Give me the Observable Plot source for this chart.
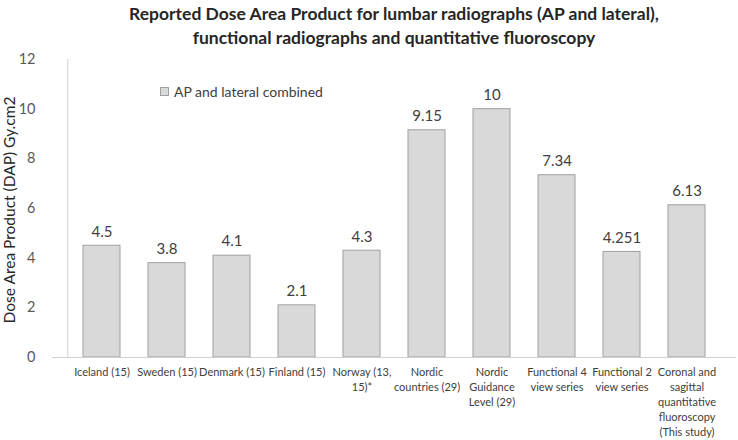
<!DOCTYPE html>
<html>
<head>
<meta charset="utf-8">
<script src="https://cdn.jsdelivr.net/npm/d3@7"></script>
<script src="https://cdn.jsdelivr.net/npm/@observablehq/plot@0.6"></script>
<style>
  html, body { margin: 0; padding: 0; background: #fff; }
  #wrap { position: relative; width: 738px; height: 440px; font-family: Lato, "Open Sans", sans-serif; }
  #title { position: absolute; left: 52px; right: 2px; top: 2px; text-align: center; font-weight: bold; font-size: 17.5px; line-height: 24px; color: #262626; }
  #legend { position: absolute; left: 160px; top: 83px; font-size: 14px; color: #404040; display: flex; align-items: center; gap: 5px; }
  #legend span.sw { display: inline-block; width: 7px; height: 7px; background: #d9d9d9; border: 1px solid #a0a0a0; }
</style>
</head>
<body>
<div id="wrap">
  <div id="title">Reported Dose Area Product for lumbar radiographs (AP and lateral),<br>functional radiographs and quantitative fluoroscopy</div>
  <div id="legend"><span class="sw"></span>AP and lateral combined</div>
</div>
<script>
const categories = [
  "Iceland (15)",
  "Sweden (15)",
  "Denmark (15)",
  "Finland (15)",
  "Norway (13,\n15)*",
  "Nordic\ncountries (29)",
  "Nordic\nGuidance\nLevel (29)",
  "Functional 4\nview series",
  "Functional 2\nview series",
  "Coronal and\nsagittal\nquantitative\nfluoroscopy\n(This study)"
];
const values = [4.5, 3.8, 4.1, 2.1, 4.3, 9.15, 10, 7.34, 4.251, 6.13];
const valueLabels = ["4.5", "3.8", "4.1", "2.1", "4.3", "9.15", "10", "7.34", "4.251", "6.13"];
const yTicks = [0, 2, 4, 6, 8, 10, 12];

const data = categories.map((c, i) => ({cat: c, value: values[i], label: valueLabels[i]}));

const chart = Plot.plot({
  width: 738,
  height: 440,
  marginLeft: 52,
  marginRight: 2,
  marginTop: 59,
  marginBottom: 83,
  style: {fontFamily: "Lato, 'Open Sans', sans-serif", background: "transparent", overflow: "visible"},
  x: {domain: categories, padding: 0.43, label: null},
  y: {domain: [0, 12], label: null},
  marks: [
    Plot.barY(data, {x: "cat", y: "value", fill: "#d9d9d9", stroke: "#a0a0a0", strokeWidth: 1}),
    Plot.text(data, {x: "cat", y: "value", text: "label", dy: -14, fontSize: 15, fill: "#404040"}),
    Plot.axisY({ticks: yTicks, tickSize: 0, tickPadding: 17, fontSize: 14.5, fill: "#595959", label: null}),
    Plot.axisX({tickSize: 0, tickPadding: 8, fontSize: 11, lineHeight: 1.36, fill: "#404040", lineWidth: 100, label: null}),
    Plot.ruleY([0], {stroke: "#d0d0d0"}),
    Plot.ruleX([0], {x: () => categories[0], dx: -34.2, y1: 0, y2: 12, stroke: "#d0d0d0"})
  ]
});
document.getElementById("wrap").prepend(chart);
chart.style.position = "absolute";
chart.style.left = "0";
chart.style.top = "0";

// y-axis title
const svg = d3.select(chart);
svg.append("text")
  .attr("transform", "translate(11,210) rotate(-90)")
  .attr("text-anchor", "middle")
  .attr("dominant-baseline", "middle")
  .attr("font-size", 15.5)
  .attr("fill", "#262626")
  .text("Dose Area Product (DAP) Gy.cm2");
</script>
</body>
</html>
